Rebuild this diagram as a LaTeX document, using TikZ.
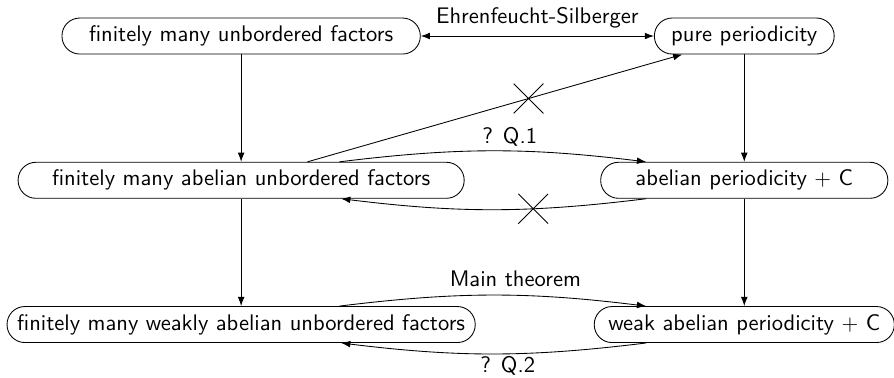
\documentclass[tikz,border=0pt]{standalone}
\usepackage{tikz}
\usetikzlibrary{arrows.meta,positioning,shapes.misc}
\renewcommand{\familydefault}{\sfdefault}

\begin{document}
\begin{tikzpicture}[>={Latex[length=1.5mm,width=1.1mm]},thin,node distance=1.75cm,
    font=\fontsize{10.45pt}{12.5pt}\selectfont]
  \tikzstyle{propbox}=[draw,rounded corners=0.29cm,minimum height=0.587cm,inner xsep=2pt,align=center]
  \tikzstyle{nogo}=[draw,cross out,minimum size=0.47cm,inner sep=0pt,thin]
  \useasboundingbox (-3.93,0.587) rectangle (10.64,-5.56);
  % left column
  \node[propbox,minimum width=5.84cm] (unb) at (0,0) {finitely many unbordered factors};
  \node[propbox,minimum width=7.27cm,below=of unb] (abunb) {finitely many abelian unbordered factors};
  \node[propbox,minimum width=7.63cm,below=of abunb] (wabunb) {finitely many weakly abelian unbordered factors};
  % right column
  \node[propbox,minimum width=2.93cm] (pure) at (8.2,0) {pure periodicity};
  \node[propbox,minimum width=4.68cm,below=of pure] (abper) {abelian periodicity $+$ C};
  \node[propbox,minimum width=4.89cm,below=of abper] (wabper) {weak abelian periodicity $+$ C};
  % implications
  \draw[<->] (unb) -- node[above] {Ehrenfeucht-Silberger} (pure);
  \draw[->] (unb) -- (abunb);
  \draw[->] (abunb) -- (wabunb);
  \draw[->] (pure) -- (abper);
  \draw[->] (abper) -- (wabper);
  \draw[->] ([xshift=1.08cm]abunb.north) -- node[nogo,pos=0.59] (x1) {} ([xshift=-1.01cm]pure.south);
  \draw[->] ([xshift=1.6cm]abunb.north) to[bend left=7] node[above=-0.05cm,pos=0.56] {? Q.1} ([xshift=-1.6cm]abper.north);
  \draw[->] ([xshift=-1.6cm]abper.south) to[bend left=7] node[nogo,pos=0.36] (x2) {} ([xshift=1.63cm]abunb.south);
  \draw[->] ([xshift=1.6cm]wabunb.north) to[bend left=7] node[above=0.02cm,pos=0.58] {Main theorem} ([xshift=-1.6cm]wabper.north);
  \draw[->] ([xshift=-1.6cm]wabper.south) to[bend left=7] node[below=-0.08cm,pos=0.45] {? Q.2} ([xshift=1.63cm]wabunb.south);
\end{tikzpicture}
\end{document}
